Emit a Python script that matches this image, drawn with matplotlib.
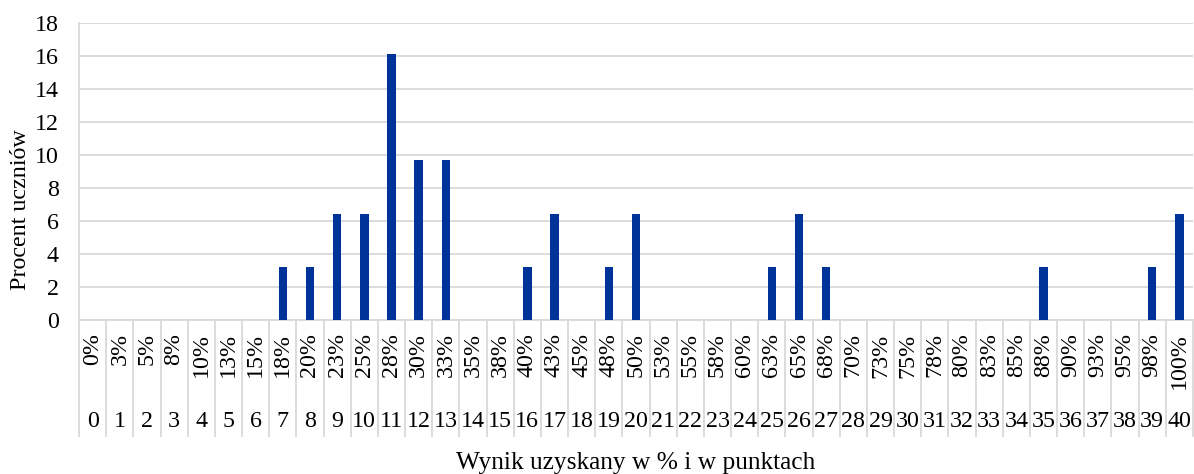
import numpy as np
import matplotlib
matplotlib.use('Agg')
from matplotlib import pyplot as plt
import matplotlib.transforms as mtransforms

plt.rcParams['font.family'] = ['Liberation Serif', 'DejaVu Serif']

# data
points = list(range(0, 41))
percent_labels = ['0%', '3%', '5%', '8%', '10%', '13%', '15%', '18%', '20%', '23%',
                  '25%', '28%', '30%', '33%', '35%', '38%', '40%', '43%', '45%', '48%',
                  '50%', '53%', '55%', '58%', '60%', '63%', '65%', '68%', '70%', '73%',
                  '75%', '78%', '80%', '83%', '85%', '88%', '90%', '93%', '95%', '98%', '100%']
students = [0, 0, 0, 0, 0, 0, 0, 3.23, 3.23, 6.45,
            6.45, 16.13, 9.68, 9.68, 0, 0, 3.23, 6.45, 0, 3.23,
            6.45, 0, 0, 0, 0, 3.23, 6.45, 3.23, 0, 0,
            0, 0, 0, 0, 0, 3.23, 0, 0, 0, 3.23, 6.45]

bar_color = '#003399'
grid_color = '#d9d9d9'
fs = 17.3

fig = plt.figure(figsize=(11.94, 4.74), dpi=100)
ax = fig.add_axes([79 / 1194, 1 - 320 / 474, 1 - 80 / 1194, 297 / 474])

ax.bar(points, students, width=0.31, color=bar_color, zorder=3)

ax.set_xlim(-0.5, 40.5)
ax.set_ylim(0, 18)
ax.set_yticks(np.arange(0, 19, 2))
ax.yaxis.grid(True, color=grid_color, linewidth=1.3, zorder=0)
ax.set_axisbelow(True)
ax.tick_params(axis='y', length=0, pad=14.5, labelsize=fs)
ax.set_xticks([])

for s in ['top', 'right']:
    ax.spines[s].set_visible(False)
ax.spines['left'].set_color(grid_color)
ax.spines['bottom'].set_color(grid_color)
ax.spines['left'].set_linewidth(1.3)
ax.spines['bottom'].set_linewidth(1.3)

trans = mtransforms.blended_transform_factory(ax.transData, ax.transAxes)

# separators of the category labels
for i in range(len(points) + 1):
    xs = i - 0.5
    ax.plot([xs, xs], [0, -0.39], transform=trans, color=grid_color,
            linewidth=1.3, clip_on=False)

for p, lab in zip(points, percent_labels):
    ax.text(p, -0.045, lab, transform=trans, rotation=90, ha='center', va='top',
            fontsize=fs)
    ax.text(p, -0.343, str(p), transform=trans, ha='center', va='center',
            fontsize=fs)

fig.text(0.0168, 1 - 210 / 474, 'Procent uczniów', rotation=90, ha='center',
         va='center', fontsize=fs)
fig.text(636 / 1194, 1 - 463 / 474, 'Wynik uzyskany w % i w punktach', ha='center',
         va='center', fontsize=18.3)

fig.savefig('out.png', dpi=100)
